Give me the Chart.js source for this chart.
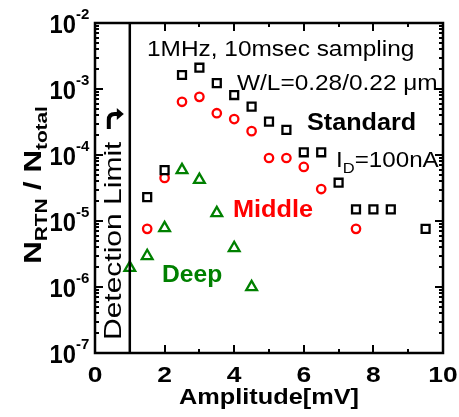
<!DOCTYPE html>
<html>
<head>
<meta charset="utf-8">
<script src="https://cdn.jsdelivr.net/npm/chart.js@4.4.1/dist/chart.umd.min.js"></script>
<style>
  html, body { margin: 0; padding: 0; background: #fff; }
</style>
</head>
<body>
<canvas id="rtnChart" width="459" height="417"></canvas>
<script>
const FONT = '"Liberation Sans", Arial, sans-serif';

// RTN amplitude [mV] vs N_RTN / N_total, one series per trap depth
const stdAmp = [1.5, 2, 2.5, 3, 3.5, 4, 4.5, 5, 5.5, 6, 6.5, 7, 7.5, 8, 8.5, 9.5];
const stdRatio = [2.3e-5, 5.9e-5, 1.63e-3, 2.1e-3, 1.23e-3, 8.1e-4, 5.4e-4, 3.2e-4, 2.4e-4, 1.1e-4, 1.1e-4, 3.8e-5, 1.5e-5, 1.5e-5, 1.5e-5, 7.6e-6];

const midAmp = [1.5, 2, 2.5, 3, 3.5, 4, 4.5, 5, 5.5, 6, 6.5, 7.5];
const midRatio = [7.6e-6, 4.5e-5, 6.4e-4, 7.6e-4, 4.3e-4, 3.5e-4, 2.3e-4, 9.0e-5, 9.0e-5, 6.6e-5, 3.05e-5, 7.6e-6];

const deepAmp = [1, 1.5, 2, 2.5, 3, 3.5, 4, 4.5];
const deepRatio = [1.95e-6, 2.95e-6, 7.8e-6, 5.9e-5, 4.2e-5, 1.32e-5, 3.9e-6, 1.0e-6];

// detection limit at 1 mV
const limitAmp = [1, 1];
const limitRatio = [1e-7, 1e-2];

const xTicks = [0, 2, 4, 6, 8, 10];
const yExps = [-7, -6, -5, -4, -3, -2];

function pts(xs, ys) {
    return xs.map((x, i) => ({ x: x, y: ys[i] }));
}

function text(ctx, str, x, y, o) {
    ctx.save();
    ctx.translate(x, y);
    if (o.rot) ctx.rotate(o.rot);
    ctx.scale(o.sx || 1, 1);
    ctx.font = (o.bold ? 'bold ' : '') + o.size + 'px ' + FONT;
    ctx.fillStyle = o.color || '#000';
    ctx.textAlign = o.align || 'left';
    ctx.textBaseline = 'alphabetic';
    ctx.fillText(str, 0, 0);
    ctx.restore();
}

// runs of [text, size, baseline shift] laid out along one line
function runs(ctx, parts, x, y, o) {
    ctx.save();
    ctx.translate(x, y);
    if (o.rot) ctx.rotate(o.rot);
    ctx.scale(o.sx || 1, 1);
    let total = 0;
    parts.forEach(p => {
        ctx.font = (o.bold ? 'bold ' : '') + p[1] + 'px ' + FONT;
        total += ctx.measureText(p[0]).width;
    });
    let cx = o.align === 'center' ? -total / 2 : 0;
    ctx.fillStyle = o.color || '#000';
    ctx.textBaseline = 'alphabetic';
    parts.forEach(p => {
        ctx.font = (o.bold ? 'bold ' : '') + p[1] + 'px ' + FONT;
        ctx.fillText(p[0], cx, p[2]);
        cx += ctx.measureText(p[0]).width;
    });
    ctx.restore();
}

const axesPlugin = {
    id: 'axesPlugin',
    afterDraw(chart) {
        const ctx = chart.ctx;
        const xs = chart.scales.x, ys = chart.scales.y;
        const { left, right, top, bottom } = chart.chartArea;

        ctx.save();
        ctx.strokeStyle = '#000';
        ctx.lineWidth = 2.5;
        ctx.strokeRect(left, top, right - left, bottom - top);

        ctx.lineWidth = 2;
        ctx.beginPath();
        // x ticks: majors on even values, minors in between, bottom and top
        for (let v = xTicks[0]; v <= xTicks[xTicks.length - 1]; v++) {
            const px = Math.round(xs.getPixelForValue(v));
            const len = xTicks.includes(v) ? 8 : 4;
            ctx.moveTo(px, bottom); ctx.lineTo(px, bottom - len);
            ctx.moveTo(px, top); ctx.lineTo(px, top + len);
        }
        // y ticks: decades plus 2..9 minors, left and right
        yExps.forEach(e => {
            for (let m = 1; m <= 9; m++) {
                if (m > 1 && e === yExps[yExps.length - 1]) break;
                const py = Math.round(ys.getPixelForValue(m * Math.pow(10, e)));
                const len = m === 1 ? 8 : 4;
                ctx.moveTo(left, py); ctx.lineTo(left + len, py);
                ctx.moveTo(right, py); ctx.lineTo(right - len, py);
            }
        });
        ctx.stroke();
        ctx.restore();

        // tick labels
        xTicks.forEach(v => {
            text(ctx, String(v), xs.getPixelForValue(v), 382, { size: 22, bold: true, align: 'center', sx: 1.2 });
        });
        yExps.forEach(e => {
            const py = ys.getPixelForValue(Math.pow(10, e));
            text(ctx, '10', 76, py + 10, { size: 25, bold: true, align: 'right', sx: 0.95 });
            text(ctx, String(e), 76, py - 4, { size: 15, bold: true });
        });

        // axis titles
        text(ctx, 'Amplitude[mV]', (left + right) / 2, 404, { size: 22, bold: true, align: 'center', sx: 1.15 });
        runs(ctx, [['N', 24, 0], ['RTN', 16, 6], [' / ', 24, 0], ['N', 24, 0], ['total', 16, 6]],
            41, 185, { rot: -Math.PI / 2, bold: true, align: 'center', sx: 1.3 });

        // detection limit label and arrow
        const lx = xs.getPixelForValue(limitAmp[0]);
        text(ctx, 'Detection Limit', lx - 9, 340, { size: 24, rot: -Math.PI / 2, sx: 1.25 });
        ctx.save();
        ctx.strokeStyle = '#000';
        ctx.fillStyle = '#000';
        ctx.lineWidth = 4;
        ctx.beginPath();
        ctx.moveTo(lx - 21, 129);
        ctx.lineTo(lx - 21, 120);
        ctx.quadraticCurveTo(lx - 21, 114, lx - 15, 114);
        ctx.lineTo(lx - 12, 114);
        ctx.stroke();
        ctx.beginPath();
        ctx.moveTo(lx - 13, 108);
        ctx.lineTo(lx - 6, 114);
        ctx.lineTo(lx - 13, 120);
        ctx.closePath();
        ctx.fill();
        ctx.restore();

        // annotations
        text(ctx, '1MHz, 10msec sampling', 147, 56, { size: 22, sx: 1.11 });
        text(ctx, 'W/L=0.28/0.22 \u03bcm', 237, 90, { size: 22, sx: 1.11 });
        text(ctx, 'Standard', 307, 130, { size: 24, bold: true, sx: 1.05 });
        runs(ctx, [['I', 22, 0], ['D', 15, 6], ['=100nA', 22, 0]], 336, 167, { sx: 1.1 });
        text(ctx, 'Middle', 233, 217, { size: 23, bold: true, color: '#ff0000', sx: 1.1 });
        text(ctx, 'Deep', 162, 282, { size: 23, bold: true, color: '#008000', sx: 1.07 });
    }
};

new Chart(document.getElementById('rtnChart'), {
    type: 'scatter',
    data: {
        datasets: [
            {
                label: 'Detection Limit',
                type: 'line',
                data: pts(limitAmp, limitRatio),
                borderColor: '#000',
                borderWidth: 2.5,
                pointRadius: 0,
                showLine: true
            },
            {
                label: 'Standard',
                data: pts(stdAmp, stdRatio),
                pointStyle: 'rect',
                pointRadius: 5.6,
                borderColor: '#000',
                backgroundColor: '#fff',
                borderWidth: 2.3
            },
            {
                label: 'Middle',
                data: pts(midAmp, midRatio),
                pointStyle: 'circle',
                pointRadius: 4.2,
                borderColor: '#ff0000',
                backgroundColor: '#fff',
                borderWidth: 2.3
            },
            {
                label: 'Deep',
                data: pts(deepAmp, deepRatio),
                pointStyle: 'triangle',
                pointRadius: 6.2,
                borderColor: '#008000',
                backgroundColor: '#fff',
                borderWidth: 2.3
            }
        ]
    },
    options: {
        responsive: false,
        animation: false,
        devicePixelRatio: 1,
        layout: { padding: { left: 95, top: 23, right: 16, bottom: 64 } },
        scales: {
            x: { type: 'linear', min: 0, max: 10, display: false },
            y: { type: 'logarithmic', min: 1e-7, max: 1e-2, display: false }
        },
        plugins: {
            legend: { display: false },
            tooltip: { enabled: false }
        }
    },
    plugins: [axesPlugin]
});
</script>
</body>
</html>
